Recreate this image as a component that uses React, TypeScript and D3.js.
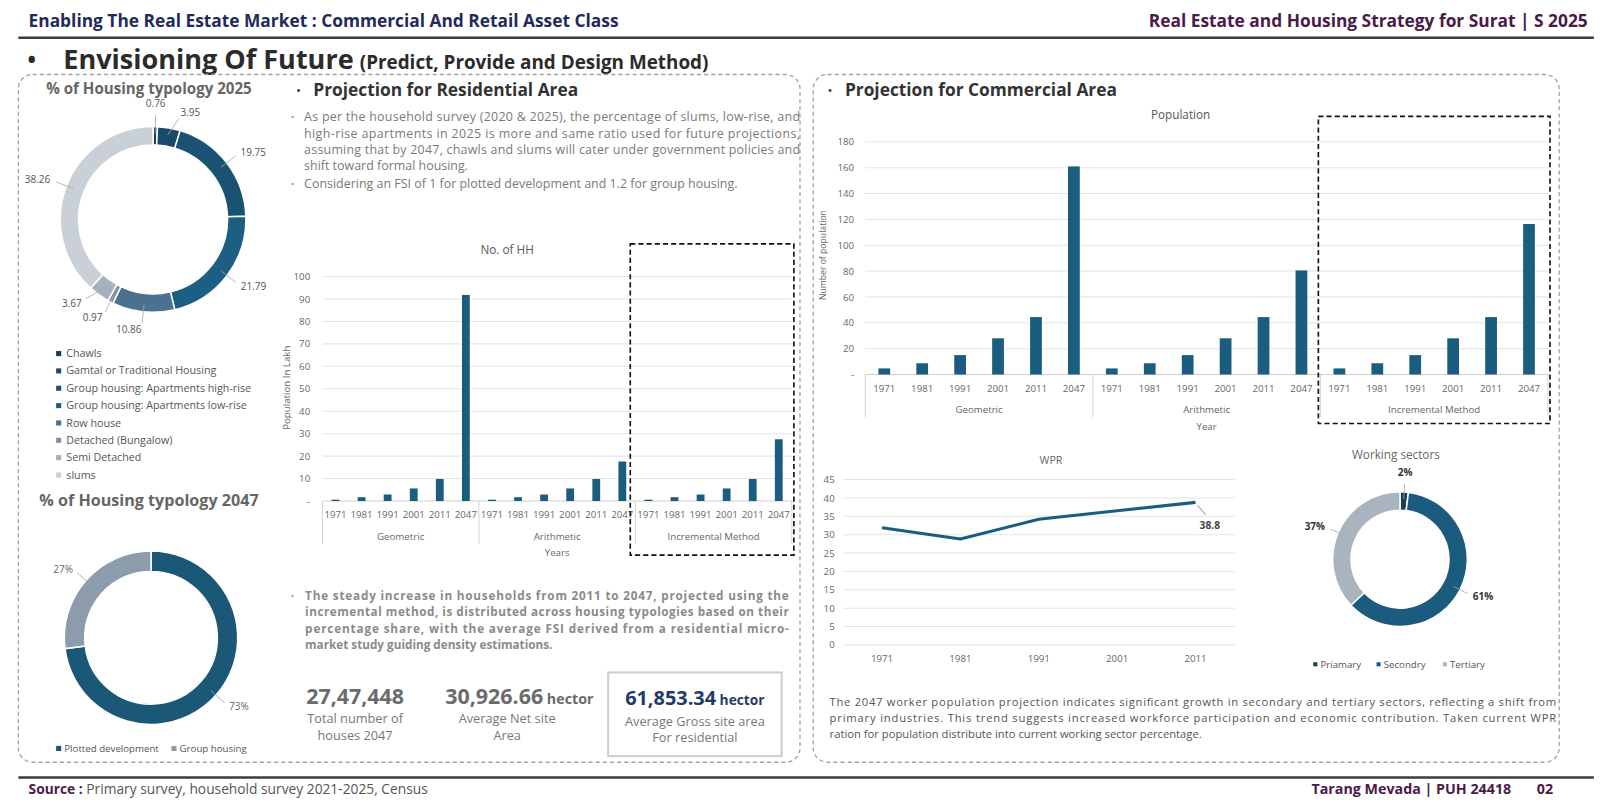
import React, { useEffect, useRef } from 'react';
import * as d3 from 'd3';

// ---------- data ----------
const years = ['1971', '1981', '1991', '2001', '2011', '2047'];
const methods = ['Geometric', 'Arithmetic', 'Incremental Method'];

// No. of HH (population in lakh)
const hhGeometric = [0.6, 1.7, 2.9, 5.6, 9.8, 91.8];
const hhArithmetic = [0.6, 1.7, 2.9, 5.6, 9.8, 17.6];
const hhIncremental = [0.6, 1.7, 2.9, 5.6, 9.8, 27.5];
const hhTicks = [0, 10, 20, 30, 40, 50, 60, 70, 80, 90, 100];

// Population (commercial projection)
const popGeometric = [4.7, 8.7, 15, 28, 44.4, 161];
const popArithmetic = [4.7, 8.7, 15, 28, 44.4, 80.5];
const popIncremental = [4.7, 8.7, 15, 28, 44.4, 116.4];
const popTicks = [0, 20, 40, 60, 80, 100, 120, 140, 160, 180];

// WPR
const wprYears = ['1971', '1981', '1991', '2001', '2011'];
const wprValues = [31.9, 28.8, 34.2, 36.5, 38.8];
const wprTicks = [0, 5, 10, 15, 20, 25, 30, 35, 40, 45];

// donuts
const typology2025 = [
  'Chawls',
  'Gamtal or Traditional Housing',
  'Group housing: Apartments high-rise',
  'Group housing: Apartments low-rise',
  'Row house',
  'Detached (Bungalow)',
  'Semi Detached',
  'slums',
];
const typology2025Values = [0.76, 3.95, 19.75, 21.79, 10.86, 0.97, 3.67, 38.26];
const typology2047 = ['Plotted development', 'Group housing'];
const typology2047Values = [73, 27];
const sectors = ['Priamary', 'Secondry', 'Tertiary'];
const sectorValues = [2, 61, 37];

// ---------- styles ----------
const FONT = '"Open Sans", Lato, sans-serif';
const BAR = '#1b5d7f';
const NAVY = '#1f2b5b';
const PURPLE = '#4a1a48';
const colors2025 = ['#163d57', '#1a4a69', '#1b5273', '#1d5f83', '#4b7190', '#7c90a4', '#a5b1be', '#c9d0d8'];
const colors2047 = ['#1b5878', '#8c9cac'];
const sectorColors = ['#173f5a', '#1b5b7d', '#a9b4bf'];

// layout below is measured on a 1568 wide sheet, scaled up to the page
const SHEET = 1600 / 1568;

type Sel = d3.Selection<SVGGElement, unknown, null, undefined>;

function txt(g: Sel, x: number, y: number, s: string, o: any = {}) {
  return g
    .append('text')
    .attr('x', x)
    .attr('y', y)
    .attr('font-size', o.size ?? 11)
    .attr('fill', o.fill ?? '#555')
    .attr('font-weight', o.weight ?? 'normal')
    .attr('text-anchor', o.anchor ?? 'start')
    .text(s);
}

// justified lines: every line but the last is stretched to the width
function para(g: Sel, lines: string[], x: number, y: number, lh: number, width: number, o: any) {
  lines.forEach((l, i) => {
    const t = txt(g, x, y + i * lh, l, o);
    if (i < lines.length - 1) t.attr('textLength', width).attr('lengthAdjust', 'spacing');
  });
}

function groupedBars(g: Sel, c: any) {
  const keys = methods.flatMap((m) => years.map((y) => `${m}|${y}`));
  const values: number[] = c.series.flat();
  const x = d3.scaleBand<string>().domain(keys).range([c.x0, c.x1]).paddingInner(c.pad).paddingOuter(c.pad / 2);
  const gx = d3.scaleBand<string>().domain(methods).range([c.x0, c.x1]);
  const y = d3.scaleLinear().domain([0, c.max]).range([c.yBase, c.yTop]);

  // grid
  g.selectAll(null)
    .data(c.ticks.filter((t: number) => t > 0))
    .join('line')
    .attr('x1', c.x0)
    .attr('x2', c.x1)
    .attr('y1', (d: any) => y(d))
    .attr('y2', (d: any) => y(d))
    .attr('stroke', '#e4e4e4');
  g.append('line').attr('x1', c.x0).attr('x2', c.x1).attr('y1', y(0)).attr('y2', y(0)).attr('stroke', '#cfcfcf');

  // y labels
  c.ticks.forEach((t: number) =>
    txt(g, c.x0 - c.labelGap, y(t) + 3.5, t === 0 ? '-' : String(t), { size: 9.5, fill: '#666', anchor: 'end' })
  );

  // bars
  g.selectAll(null)
    .data(keys)
    .join('rect')
    .attr('x', (d) => x(d)!)
    .attr('width', x.bandwidth())
    .attr('y', (d, i) => y(values[i]))
    .attr('height', (d, i) => y(0) - y(values[i]))
    .attr('fill', BAR);

  // category labels
  keys.forEach((k) =>
    txt(g, x(k)! + x.bandwidth() / 2, y(0) + 17, k.split('|')[1], { size: c.yearSize, fill: '#666', anchor: 'middle' })
  );
  methods.forEach((m) => {
    g.append('line')
      .attr('x1', gx(m)!)
      .attr('x2', gx(m)!)
      .attr('y1', y(0))
      .attr('y2', y(0) + 42)
      .attr('stroke', '#d4d4d4');
    txt(g, gx(m)! + gx.bandwidth() / 2, y(0) + 38, m, { size: 9.5, fill: '#666', anchor: 'middle' });
  });
  g.append('line').attr('x1', c.x1).attr('x2', c.x1).attr('y1', y(0)).attr('y2', y(0) + 42).attr('stroke', '#d4d4d4');
  txt(g, (c.x0 + c.x1) / 2, y(0) + 54, c.xTitle, { size: 9.5, fill: '#666', anchor: 'middle' });

  // titles
  txt(g, c.titleX, c.titleY, c.title, { size: 11.5, fill: '#595959', anchor: 'middle' });
  g.append('text')
    .attr('transform', `translate(${c.yTitleX},${c.yTitleY}) rotate(-90)`)
    .attr('text-anchor', 'middle')
    .attr('font-size', c.yTitleSize)
    .attr('fill', '#666')
    .text(c.yTitle);

  // dashed highlight around the incremental method
  const hx = gx('Incremental Method')! - c.boxL;
  g.append('rect')
    .attr('x', hx)
    .attr('y', c.boxTop)
    .attr('width', c.x1 + c.boxR - hx)
    .attr('height', y(0) + c.boxBottom - c.boxTop)
    .attr('fill', 'none')
    .attr('stroke', '#111')
    .attr('stroke-width', 1.6)
    .attr('stroke-dasharray', '5,3');
}

function donut(g: Sel, c: any) {
  const pie = d3.pie<number>().sort(null).value((d) => d);
  const arcs = pie(c.values);
  const arc = d3.arc<d3.PieArcDatum<number>>().innerRadius(c.rIn).outerRadius(c.rOut);
  const dg = g.append('g').attr('transform', `translate(${c.cx},${c.cy})`);
  dg.selectAll('path')
    .data(arcs)
    .join('path')
    .attr('d', arc)
    .attr('fill', (d, i) => c.colors[i])
    .attr('stroke', '#fff')
    .attr('stroke-width', 1.5);

  // label angles, pushed apart when slices are too thin to hold them
  const minSep = ((c.minSep ?? 0) * Math.PI) / 180;
  const labAng: number[] = [];
  arcs.forEach((a, i) => {
    const mid = (a.startAngle + a.endAngle) / 2;
    labAng.push(i > 0 && mid - labAng[i - 1] < minSep ? labAng[i - 1] + minSep : mid);
  });

  arcs.forEach((a, i) => {
    const mid = (a.startAngle + a.endAngle) / 2;
    const ang = labAng[i];
    const s = Math.sin(ang);
    const k = -Math.cos(ang);
    dg.append('line')
      .attr('x1', Math.sin(mid) * (c.rOut - 7))
      .attr('y1', -Math.cos(mid) * (c.rOut - 7))
      .attr('x2', s * (c.labelR - 6))
      .attr('y2', k * (c.labelR - 6))
      .attr('stroke', '#a6a6a6')
      .attr('stroke-width', 0.8);
    const anchor = s > 0.1 ? 'start' : s < -0.1 ? 'end' : 'middle';
    const dy = anchor === 'middle' ? (k > 0 ? 10 : -2) : 3.5;
    txt(dg as any, s * c.labelR, k * c.labelR + dy, c.fmt(a.data), {
      size: 9.8,
      fill: c.labelFill,
      weight: c.labelWeight,
      anchor,
    });
  });
}

export default function App() {
  const svgRef = useRef<SVGSVGElement | null>(null);

  useEffect(() => {
    if (!svgRef.current) return;
    const svg = d3.select(svgRef.current);
    svg.selectAll('*').remove();
    const root = svg.append('g').attr('font-family', FONT).attr('transform', `scale(${SHEET})`) as unknown as Sel;

    // ---- header ----
    txt(root, 28, 26, 'Enabling The Real Estate Market : Commercial And Retail Asset Class', {
      size: 17,
      weight: 'bold',
      fill: NAVY,
    });
    txt(root, 1556, 26, 'Real Estate and Housing Strategy for Surat | S 2025', {
      size: 17,
      weight: 'bold',
      fill: PURPLE,
      anchor: 'end',
    });
    root.append('line').attr('x1', 18).attr('x2', 1562).attr('y1', 37).attr('y2', 37).attr('stroke', '#3c3c3c').attr('stroke-width', 2.5);

    txt(root, 27, 67, '•', { size: 22, weight: 'bold', fill: '#2b2b2b' });
    const head = txt(root, 62, 68, 'Envisioning Of Future', { size: 26.5, weight: 'bold', fill: '#2b2b2b' });
    head.append('tspan').attr('dx', 6).attr('font-size', 18.5).text('(Predict, Provide and Design Method)');

    // ---- panels ----
    root.append('rect').attr('x', 18).attr('y', 73).attr('width', 766).attr('height', 674).attr('rx', 14)
      .attr('fill', 'none').attr('stroke', '#a3a3a3').attr('stroke-width', 1.3).attr('stroke-dasharray', '4,3');
    root.append('rect').attr('x', 797).attr('y', 73).attr('width', 731).attr('height', 674).attr('rx', 14)
      .attr('fill', 'none').attr('stroke', '#a3a3a3').attr('stroke-width', 1.3).attr('stroke-dasharray', '4,3');

    // ---- housing typology 2025 ----
    txt(root, 146, 92, '% of Housing typology 2025', { size: 14.8, weight: 'bold', fill: '#666', anchor: 'middle' });
    donut(root, {
      cx: 150, cy: 215, rOut: 91, rIn: 73, labelR: 108, minSep: 13,
      values: typology2025Values, colors: colors2025,
      fmt: (v: number) => String(v), labelFill: '#555', labelWeight: 'normal',
    });
    typology2025.forEach((l, i) => {
      root.append('rect').attr('x', 55).attr('y', 344 + i * 17).attr('width', 5).attr('height', 5).attr('fill', colors2025[i]);
      txt(root, 65, 350 + i * 17, l, { size: 10.5, fill: '#555' });
    });

    // ---- housing typology 2047 ----
    txt(root, 146, 496, '% of Housing typology 2047', { size: 15.8, weight: 'bold', fill: '#666', anchor: 'middle' });
    donut(root, {
      cx: 148, cy: 625, rOut: 85, rIn: 65, labelR: 102,
      values: typology2047Values, colors: colors2047,
      fmt: (v: number) => `${v}%`, labelFill: '#666', labelWeight: 'normal',
    });
    typology2047.forEach((l, i) => {
      const lx = 55 + i * 113;
      root.append('rect').attr('x', lx).attr('y', 731).attr('width', 5).attr('height', 5).attr('fill', colors2047[i]);
      txt(root, lx + 8, 737, l, { size: 9.5, fill: '#555' });
    });

    // ---- residential projection ----
    txt(root, 290, 93, '•', { size: 13, fill: '#333' });
    txt(root, 307, 94, 'Projection for Residential Area', { size: 17, weight: 'bold', fill: '#333' });
    txt(root, 285, 118, '•', { size: 9, fill: '#999' });
    para(root, [
      'As per the household survey (2020 & 2025), the percentage of slums, low-rise, and',
      'high-rise apartments in 2025 is more and same ratio used for future projections,',
      'assuming that by 2047, chawls and slums will cater under government policies and',
      'shift toward formal housing.',
    ], 298, 119, 16, 486, { size: 12.2, fill: '#7a7a7a' });
    txt(root, 285, 183, '•', { size: 9, fill: '#999' });
    txt(root, 298, 184, 'Considering an FSI of 1 for plotted development and 1.2 for group housing.', { size: 12.2, fill: '#7a7a7a' });

    groupedBars(root, {
      x0: 316, x1: 776, yBase: 491, yTop: 271, max: 100, pad: 0.7, labelGap: 12, yearSize: 9.5,
      ticks: hhTicks, series: [hhGeometric, hhArithmetic, hhIncremental],
      title: 'No. of HH', titleX: 497, titleY: 249,
      yTitle: 'Population In Lakh', yTitleX: 284, yTitleY: 380, yTitleSize: 9.5,
      xTitle: 'Years', boxL: 5, boxR: 2, boxTop: 239, boxBottom: 53,
    });

    txt(root, 285, 587, '•', { size: 9, fill: '#999' });
    para(root, [
      'The steady increase in households from 2011 to 2047, projected using the',
      'incremental method, is distributed across housing typologies based on their',
      'percentage share, with the average FSI derived from a residential micro-',
      'market study guiding density estimations.',
    ], 299, 588, 16, 474, { size: 11.5, fill: '#8a8a8a', weight: 'bold' });

    // stats
    txt(root, 348, 690, '27,47,448', { size: 21, weight: 'bold', fill: '#6b6b6b', anchor: 'middle' });
    txt(root, 348, 709, 'Total number of', { size: 12.5, fill: '#777', anchor: 'middle' });
    txt(root, 348, 725, 'houses 2047', { size: 12.5, fill: '#777', anchor: 'middle' });
    const s2 = txt(root, 509, 690, '30,926.66', { size: 21, weight: 'bold', fill: '#6b6b6b', anchor: 'middle' });
    s2.append('tspan').attr('font-size', 14).text(' hector');
    txt(root, 497, 709, 'Average Net site', { size: 12.5, fill: '#777', anchor: 'middle' });
    txt(root, 497, 725, 'Area', { size: 12.5, fill: '#777', anchor: 'middle' });
    root.append('rect').attr('x', 596).attr('y', 659).attr('width', 170).attr('height', 82).attr('fill', 'none').attr('stroke', '#cfcfcf').attr('stroke-width', 2);
    const s3 = txt(root, 681, 691, '61,853.34', { size: 19.5, weight: 'bold', fill: '#1f3b6d', anchor: 'middle' });
    s3.append('tspan').attr('font-size', 13.5).text(' hector');
    txt(root, 681, 711, 'Average Gross site area', { size: 12.5, fill: '#777', anchor: 'middle' });
    txt(root, 681, 727, 'For residential', { size: 12.5, fill: '#777', anchor: 'middle' });

    // ---- commercial projection ----
    txt(root, 811, 93, '•', { size: 13, fill: '#333' });
    txt(root, 828, 94, 'Projection for Commercial Area', { size: 17, weight: 'bold', fill: '#333' });

    groupedBars(root, {
      x0: 848, x1: 1517, yBase: 367, yTop: 139, max: 180, pad: 0.69, labelGap: 11, yearSize: 9.5,
      ticks: popTicks, series: [popGeometric, popArithmetic, popIncremental],
      title: 'Population', titleX: 1157, titleY: 117,
      yTitle: 'Number of population', yTitleX: 809, yTitleY: 250, yTitleSize: 8.5,
      xTitle: 'Year', boxL: 2, boxR: 2, boxTop: 114, boxBottom: 48,
    });

    // WPR line chart
    const wx = d3.scaleBand<string>().domain(wprYears).range([826, 1210]);
    const wy = d3.scaleLinear().domain([0, 45]).range([632, 470]);
    wprTicks.forEach((t) => {
      root.append('line').attr('x1', 826).attr('x2', 1210).attr('y1', wy(t)).attr('y2', wy(t)).attr('stroke', '#e4e4e4');
      txt(root, 818, wy(t) + 3.5, String(t), { size: 9.5, fill: '#666', anchor: 'end' });
    });
    wprYears.forEach((yr) => txt(root, wx(yr)! + wx.bandwidth() / 2, 649, yr, { size: 9.5, fill: '#666', anchor: 'middle' }));
    const line = d3
      .line<number>()
      .x((d, i) => wx(wprYears[i])! + wx.bandwidth() / 2)
      .y((d) => wy(d));
    root.append('path').attr('d', line(wprValues)!).attr('fill', 'none').attr('stroke', BAR).attr('stroke-width', 3).attr('stroke-linejoin', 'round');
    const lastX = wx(wprYears[wprYears.length - 1])! + wx.bandwidth() / 2;
    const lastY = wy(wprValues[wprValues.length - 1]);
    root.append('line').attr('x1', lastX + 2).attr('y1', lastY + 3).attr('x2', lastX + 10).attr('y2', lastY + 12).attr('stroke', '#a6a6a6');
    txt(root, lastX + 14, lastY + 26, String(wprValues[wprValues.length - 1]), { size: 10, weight: 'bold', fill: '#444', anchor: 'middle' });
    txt(root, 1030, 455, 'WPR', { size: 10.5, fill: '#666', anchor: 'middle' });

    // working sectors
    txt(root, 1368, 450, 'Working sectors', { size: 11.5, fill: '#666', anchor: 'middle' });
    donut(root, {
      cx: 1372, cy: 548, rOut: 66, rIn: 48, labelR: 80,
      values: sectorValues, colors: sectorColors,
      fmt: (v: number) => `${v}%`, labelFill: '#333', labelWeight: 'bold',
    });
    const lgX = [1287, 1349, 1414];
    sectors.forEach((sct, i) => {
      root.append('rect').attr('x', lgX[i]).attr('y', 649).attr('width', 4).attr('height', 4).attr('fill', sectorColors[i]);
      txt(root, lgX[i] + 7, 655, sct, { size: 9.5, fill: '#555' });
    });

    para(root, [
      'The 2047 worker population projection indicates significant growth in secondary and tertiary sectors, reflecting a shift from',
      'primary industries. This trend suggests increased workforce participation and economic contribution. Taken current WPR',
      'ration for population distribute into current working sector percentage.',
    ], 813, 692, 15.5, 712, { size: 11, fill: '#555' });

    // ---- footer ----
    root.append('line').attr('x1', 18).attr('x2', 1562).attr('y1', 762).attr('y2', 762).attr('stroke', '#3c3c3c').attr('stroke-width', 2.5);
    const src = txt(root, 28, 778, 'Source :', { size: 13.5, weight: 'bold', fill: PURPLE });
    src.append('tspan').attr('font-weight', 'normal').attr('fill', '#555').text(' Primary survey, household survey 2021-2025, Census');
    txt(root, 1481, 778, 'Tarang Mevada | PUH 24418', { size: 14, weight: 'bold', fill: PURPLE, anchor: 'end' });
    txt(root, 1522, 778, '02', { size: 14, weight: 'bold', fill: PURPLE, anchor: 'end' });
  }, []);

  return (
    <svg
      ref={svgRef}
      width={1600}
      height={800}
      style={{ position: 'absolute', left: 0, top: 0, background: '#fff' }}
    />
  );
}
